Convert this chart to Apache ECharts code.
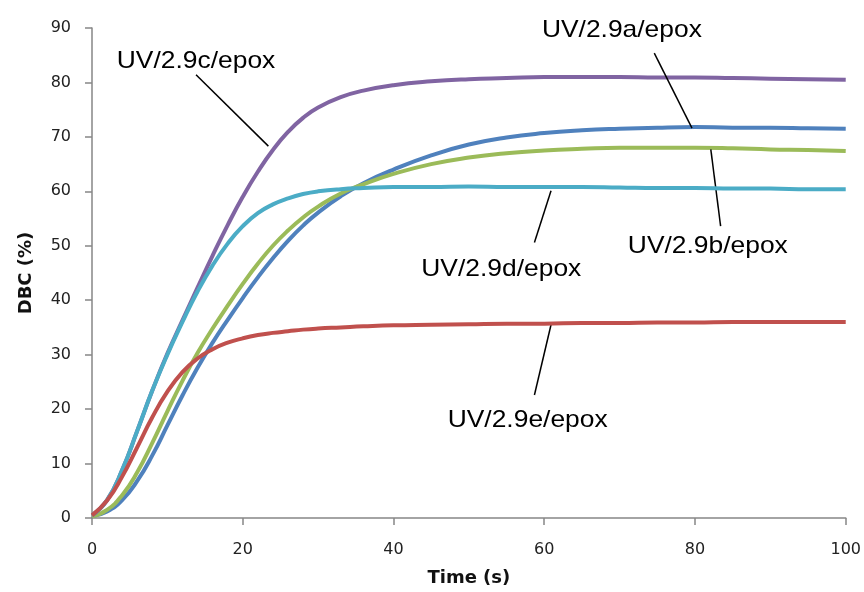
<!DOCTYPE html>
<html>
<head>
<meta charset="utf-8">
<script src="https://cdn.jsdelivr.net/npm/echarts@6/dist/echarts.min.js"></script>
<style>
  html, body { margin: 0; padding: 0; background: #fff; }
  #chart { width: 864px; height: 592px; }
</style>
</head>
<body>
<div id="chart"></div>
<script>
// Time axis (s)
const times = [0, 2, 4, 6, 8, 10, 12, 14, 16, 18, 20, 22, 24, 26, 28, 30, 33, 36, 40, 45, 50, 55, 60, 65, 70, 75, 80, 85, 90, 95, 100];

// DBC (%) for each membrane
const dbcA = [0.3, 1.2, 3.3, 6.8, 11.5, 17.0, 22.5, 27.6, 32.2, 36.4, 40.4, 44.2, 47.7, 50.9, 53.7, 56.1, 59.1, 61.5, 64.0, 66.6, 68.6, 69.9, 70.7, 71.2, 71.5, 71.7, 71.8, 71.7, 71.7, 71.6, 71.5];
const dbcB = [0.3, 1.5, 4.2, 8.4, 13.8, 19.6, 25.2, 30.3, 34.8, 39.0, 43.0, 46.7, 50.0, 52.8, 55.2, 57.2, 59.6, 61.3, 63.2, 65.0, 66.2, 67.0, 67.5, 67.8, 68.0, 68.0, 68.0, 67.9, 67.7, 67.6, 67.4];
const dbcC = [0.5, 3.3, 8.8, 16.0, 23.4, 30.2, 36.3, 42.3, 48.2, 53.8, 59.0, 63.6, 67.6, 70.9, 73.5, 75.4, 77.3, 78.5, 79.5, 80.2, 80.6, 80.8, 81.0, 81.0, 81.0, 80.9, 80.9, 80.8, 80.7, 80.6, 80.5];
const dbcD = [0.5, 3.3, 8.8, 16.0, 23.4, 30.0, 36.0, 41.6, 46.4, 50.4, 53.6, 56.0, 57.6, 58.7, 59.5, 60.0, 60.4, 60.6, 60.8, 60.8, 60.9, 60.8, 60.8, 60.8, 60.7, 60.6, 60.6, 60.5, 60.5, 60.4, 60.4];
const dbcE = [0.5, 3.2, 7.6, 13.0, 18.5, 23.2, 26.8, 29.3, 31.0, 32.2, 33.0, 33.6, 34.0, 34.3, 34.6, 34.8, 35.0, 35.2, 35.4, 35.5, 35.6, 35.7, 35.7, 35.8, 35.8, 35.9, 35.9, 36.0, 36.0, 36.0, 36.0];

const seriesNames = ['UV/2.9a/epox', 'UV/2.9b/epox', 'UV/2.9c/epox', 'UV/2.9d/epox', 'UV/2.9e/epox'];
const seriesValues = [dbcA, dbcB, dbcC, dbcD, dbcE];
const seriesColors = ['#4F81BD', '#9BBB59', '#8064A2', '#4BACC6', '#C0504D'];

// Callout text anchor (data coords) and leader line [from, to] per series
const calloutText = [[70.3, 89.6], [81.7, 49.9], [13.8, 83.8], [54.3, 45.7], [57.8, 17.9]];
const calloutLine = [
  [[74.6, 85.4], [79.6, 71.6]],
  [[82.1, 67.7], [83.4, 53.6]],
  [[13.8, 81.4], [23.4, 68.3]],
  [[60.9, 60.1], [58.7, 50.6]],
  [[60.9, 35.5], [58.7, 22.6]]
];

const chart = echarts.init(document.getElementById('chart'), null, { renderer: 'canvas' });

const axisColor = '#868686';
const tickLabel = { color: '#222', fontFamily: 'DejaVu Sans', fontSize: 16 };

const series = seriesNames.map((name, i) => ({
  name: name,
  type: 'line',
  smooth: 0.5,
  showSymbol: false,
  data: times.map((t, k) => [t, seriesValues[i][k]]),
  lineStyle: { color: seriesColors[i], width: 4 },
  itemStyle: { color: seriesColors[i] },
  z: 2 + i,
  markLine: {
    silent: true,
    symbol: 'none',
    animation: false,
    label: { show: false },
    lineStyle: { color: '#000', width: 1.5, type: 'solid' },
    data: [[{ coord: calloutLine[i][0] }, { coord: calloutLine[i][1] }]]
  }
}));

chart.setOption({
  animation: false,
  backgroundColor: '#fff',
  grid: { left: 92, right: 17, top: 28, bottom: 72 },
  xAxis: {
    type: 'value',
    min: 0, max: 100, interval: 20,
    name: 'Time (s)',
    nameLocation: 'middle',
    nameGap: 51,
    nameTextStyle: { fontFamily: 'DejaVu Sans', fontWeight: 'bold', fontSize: 18, color: '#111' },
    axisLine: { lineStyle: { color: axisColor, width: 1.5 } },
    axisTick: { show: true, length: 7, lineStyle: { color: axisColor, width: 1.5 } },
    axisLabel: Object.assign({ margin: 24 }, tickLabel),
    splitLine: { show: false }
  },
  yAxis: {
    type: 'value',
    min: 0, max: 90, interval: 10,
    name: 'DBC (%)',
    nameLocation: 'middle',
    nameGap: 57,
    nameTextStyle: { fontFamily: 'DejaVu Sans', fontWeight: 'bold', fontSize: 18, color: '#111' },
    axisLine: { show: true, lineStyle: { color: axisColor, width: 1.5 } },
    axisTick: { show: true, length: 7, lineStyle: { color: axisColor, width: 1.5 } },
    axisLabel: Object.assign({ margin: 21 }, tickLabel),
    splitLine: { show: false }
  },
  series: series
});

// Callout captions placed through the axes' scales
const texts = seriesNames.map((name, i) => {
  const p = chart.convertToPixel({ gridIndex: 0 }, calloutText[i]);
  return {
    type: 'text',
    x: p[0], y: p[1],
    scaleX: 1.1,
    z: 20,
    style: {
      text: name,
      fontFamily: 'Liberation Sans',
      fontSize: 24,
      fill: '#000',
      align: 'center',
      verticalAlign: 'middle'
    }
  };
});
chart.setOption({ graphic: texts });
</script>
</body>
</html>
